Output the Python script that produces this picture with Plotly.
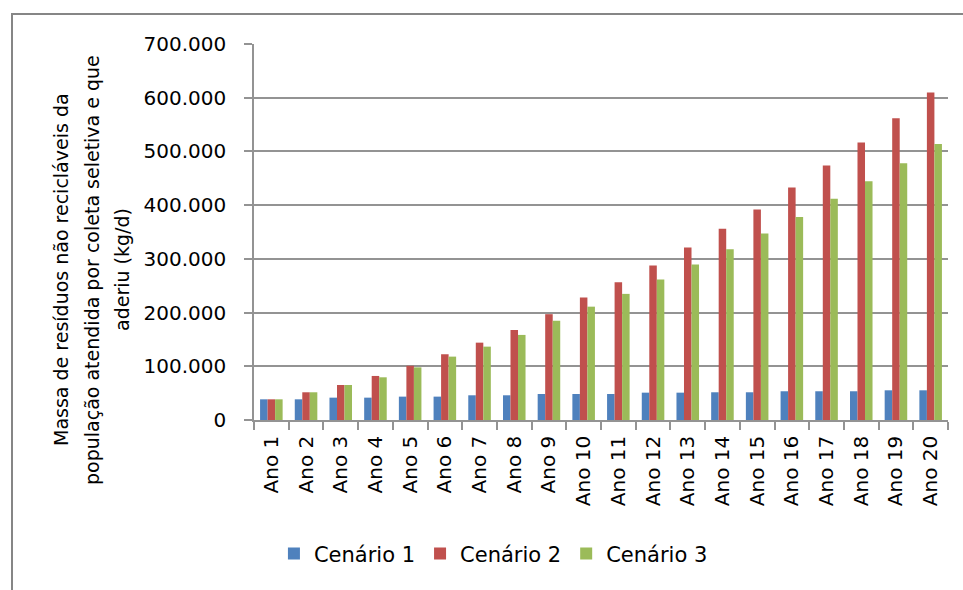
import plotly.graph_objects as go

# Categories (years) and daily mass of non-recyclable waste per scenario (kg/d)
anos = [f"Ano {i}" for i in range(1, 21)]

cenario_1 = [38500, 38500, 41600, 41600, 43500, 43500, 46000, 46000, 48400, 48400,
             48400, 50900, 50900, 51600, 51600, 53500, 53500, 53500, 55300, 55300]
cenario_2 = [38500, 51600, 65200, 82000, 101000, 122400, 144000, 167700, 197000, 228000,
             256600, 287500, 321000, 355900, 391900, 433000, 474000, 516700, 562000, 609800]
cenario_3 = [38500, 51600, 65200, 79500, 98000, 118000, 136600, 158400, 185000, 211000,
             234800, 261400, 289400, 318000, 347000, 378000, 412000, 444700, 478000, 514000]

series_names = ["Cenário 1", "Cenário 2", "Cenário 3"]
series_colors = ["#4F81BD", "#C0504D", "#9BBB59"]

y_title_lines = [
    "Massa de resíduos não recicláveis da",
    "população atendida por coleta seletiva e que",
    "aderiu (kg/d)",
]

FONT = "DejaVu Sans"
GRID = "#939393"

fig = go.Figure()
for name, vals, color in zip(series_names, [cenario_1, cenario_2, cenario_3], series_colors):
    fig.add_trace(go.Bar(
        x=anos, y=vals, name=name,
        marker=dict(color=color, line=dict(width=0)),
    ))

fig.update_layout(
    width=963, height=590,
    margin=dict(l=254, r=15, t=44, b=170),
    paper_bgcolor="white", plot_bgcolor="white",
    barmode="group", bargap=0.35, bargroupgap=0,
    separators=",.",
    font=dict(family=FONT, size=20, color="black"),
    showlegend=True,
    legend=dict(
        orientation="h", x=0.345, xanchor="center", y=-0.356, yanchor="middle",
        font=dict(family=FONT, size=21, color="black"),
        itemwidth=30, tracegroupgap=0,
    ),
    xaxis=dict(
        type="category", tickangle=-90, tickson="boundaries",
        ticks="outside", ticklen=8, tickcolor=GRID, tickwidth=1.5,
        showline=True, linecolor=GRID, linewidth=1.5,
        showgrid=False, ticklabelstandoff=6,
        tickfont=dict(family=FONT, size=20, color="black"),
    ),
    yaxis=dict(
        range=[0, 700000], tickvals=list(range(0, 700001, 100000)),
        tickformat=",d",
        ticks="outside", ticklen=8, tickcolor=GRID, tickwidth=1.5,
        showline=True, linecolor=GRID, linewidth=1.5,
        showgrid=True, gridcolor=GRID, gridwidth=1.5,
        zeroline=False, ticklabelstandoff=14,
        tickfont=dict(family=FONT, size=20, color="black"),
    ),
)

# Multi-line vertical axis title, one annotation per line
line_x_px = [61, 92, 122]
plot_left, plot_w = 254, 694
plot_bottom, plot_h = 420, 376
for text, xp in zip(y_title_lines, line_x_px):
    fig.add_annotation(
        text=text, textangle=-90, showarrow=False,
        xref="paper", yref="paper",
        x=(xp - plot_left) / plot_w, y=(plot_bottom - 270) / plot_h,
        xanchor="center", yanchor="middle",
        font=dict(family=FONT, size=19, color="black"),
    )

# Chart-area frame
fig.add_shape(
    type="rect", xref="paper", yref="paper",
    x0=(12 - plot_left) / plot_w, x1=2,
    y0=-1, y1=(plot_bottom - 14) / plot_h,
    line=dict(color="#868686", width=2), fillcolor="rgba(0,0,0,0)", layer="below",
)

fig.write_html("out.html")
